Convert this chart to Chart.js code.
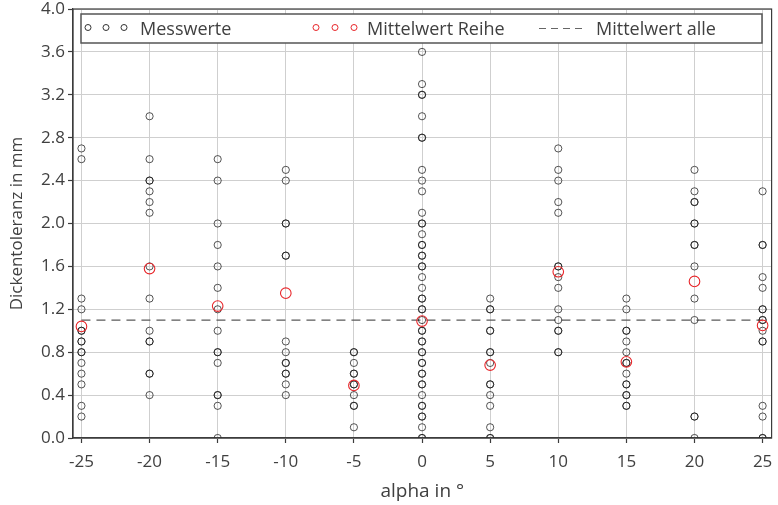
<!DOCTYPE html>
<html>
<head>
<meta charset="utf-8">
<script src="https://cdn.jsdelivr.net/npm/chart.js@4/dist/chart.umd.min.js"></script>
<style>
  html, body { margin: 0; padding: 0; background: #fff; }
  #wrap { width: 778px; height: 505px; position: relative; }
</style>
</head>
<body>
<div id="wrap"><canvas id="c" width="778" height="505"></canvas></div>
<script>
// Winkel der Messreihen (alpha in °)
const winkel = [-25, -20, -15, -10, -5, 0, 5, 10, 15, 20, 25];

// Messwerte je Reihe (Dickentoleranz in mm)
const reiheM25 = [2.7, 2.6, 1.3, 1.2, 1.0, 1.0, 0.9, 0.9, 0.8, 0.8, 0.7, 0.6, 0.5, 0.3, 0.2];
const reiheM20 = [3.0, 2.6, 2.4, 2.4, 2.3, 2.2, 2.1, 1.6, 1.3, 1.0, 0.9, 0.9, 0.6, 0.6, 0.4];
const reiheM15 = [2.6, 2.4, 2.0, 1.8, 1.6, 1.4, 1.2, 1.0, 0.8, 0.8, 0.7, 0.4, 0.4, 0.3, 0.0];
const reiheM10 = [2.5, 2.4, 2.0, 2.0, 1.7, 1.7, 0.9, 0.8, 0.7, 0.7, 0.6, 0.6, 0.5, 0.4];
const reiheM5  = [0.8, 0.8, 0.7, 0.6, 0.6, 0.5, 0.5, 0.4, 0.3, 0.3, 0.1];
const reihe0   = [3.6, 3.3, 3.2, 3.2, 3.0, 2.8, 2.8, 2.5, 2.4, 2.3, 2.1, 2.0, 2.0, 1.9, 1.8, 1.8,
                  1.7, 1.7, 1.6, 1.6, 1.5, 1.4, 1.3, 1.3, 1.2, 1.2, 1.1, 1.0, 1.0, 0.9, 0.9, 0.8,
                  0.8, 0.7, 0.7, 0.6, 0.6, 0.5, 0.5, 0.4, 0.3, 0.3, 0.2, 0.2, 0.1, 0.0, 0.0];
const reiheP5  = [1.3, 1.2, 1.2, 1.0, 1.0, 0.8, 0.8, 0.7, 0.5, 0.5, 0.4, 0.3, 0.1, 0.0, 0.0];
const reiheP10 = [2.7, 2.5, 2.4, 2.2, 2.1, 1.6, 1.6, 1.5, 1.4, 1.2, 1.1, 1.0, 1.0, 0.8, 0.8];
const reiheP15 = [1.3, 1.2, 1.0, 1.0, 0.9, 0.8, 0.7, 0.7, 0.6, 0.5, 0.5, 0.4, 0.4, 0.3, 0.3];
const reiheP20 = [2.5, 2.3, 2.2, 2.2, 2.0, 2.0, 1.8, 1.8, 1.6, 1.3, 1.1, 0.2, 0.2, 0.0];
const reiheP25 = [2.3, 1.8, 1.8, 1.5, 1.4, 1.2, 1.2, 1.1, 1.1, 1.0, 0.9, 0.9, 0.3, 0.2, 0.0, 0.0];

// Mittelwert je Reihe und Gesamtmittelwert
const mittelwertReihe = [1.04, 1.58, 1.23, 1.35, 0.49, 1.09, 0.68, 1.55, 0.71, 1.46, 1.05];
const mittelwertAlle = 1.1;

// Achsenbeschriftung
const xTicks = [-25, -20, -15, -10, -5, 0, 5, 10, 15, 20, 25];
const yTickStep = 0.4;

const reihen = [reiheM25, reiheM20, reiheM15, reiheM10, reiheM5, reihe0,
                reiheP5, reiheP10, reiheP15, reiheP20, reiheP25];

const messPunkte = [];
reihen.forEach((werte, i) => werte.forEach(v => messPunkte.push({ x: winkel[i], y: v })));
const mittelPunkte = winkel.map((w, i) => ({ x: w, y: mittelwertReihe[i] }));
const linieAlle = [
  { x: xTicks[0], y: mittelwertAlle },
  { x: xTicks[xTicks.length - 1], y: mittelwertAlle }
];

const FONT = "'Open Sans', 'Noto Sans', sans-serif";
const TEXT = '#404040';

// Achsen ohne zusätzlichen Randausgleich für überstehende Beschriftungen
function ohneRandausgleich(scale) {
  scale.paddingLeft = 0;
  scale.paddingRight = 0;
  scale.paddingTop = 0;
  scale.paddingBottom = 0;
}

// Rahmen um die Zeichenfläche und Legende
const rahmenUndLegende = {
  id: 'rahmenUndLegende',
  afterDraw(chart) {
    const { ctx, chartArea: a } = chart;
    ctx.save();
    ctx.strokeStyle = '#3c3c3c';
    ctx.lineWidth = 1.2;
    ctx.strokeRect(a.left, a.top, a.right - a.left, a.bottom - a.top);

    // Legendenkasten
    const bx = 81, by = 14, bw = 681, bh = 29;
    ctx.fillStyle = '#fff';
    ctx.fillRect(bx, by, bw, bh);
    ctx.strokeStyle = '#555';
    ctx.lineWidth = 1.5;
    ctx.strokeRect(bx, by, bw, bh);

    const cy = by + bh / 2 + 1;
    ctx.lineWidth = 1;
    // Messwerte
    ctx.strokeStyle = '#333';
    [88, 106, 124].forEach(x => { ctx.beginPath(); ctx.arc(x, cy - 2, 3, 0, Math.PI * 2); ctx.stroke(); });
    // Mittelwert Reihe
    ctx.strokeStyle = '#e8262a';
    [316, 335, 354].forEach(x => { ctx.beginPath(); ctx.arc(x, cy - 2, 3, 0, Math.PI * 2); ctx.stroke(); });
    // Mittelwert alle
    ctx.strokeStyle = '#666';
    ctx.setLineDash([7, 5]);
    ctx.beginPath(); ctx.moveTo(539, cy - 1); ctx.lineTo(586, cy - 1); ctx.stroke();
    ctx.setLineDash([]);

    ctx.fillStyle = TEXT;
    ctx.font = '18px ' + FONT;
    ctx.textBaseline = 'middle';
    ctx.textAlign = 'left';
    ctx.fillText('Messwerte', 140, cy);
    ctx.fillText('Mittelwert Reihe', 367, cy);
    ctx.fillText('Mittelwert alle', 596, cy);
    ctx.restore();
  }
};

new Chart(document.getElementById('c'), {
  type: 'scatter',
  data: {
    datasets: [
      {
        label: 'Mittelwert alle',
        type: 'line',
        data: linieAlle,
        borderColor: '#5a5a5a',
        borderWidth: 1.3,
        borderDash: [9, 6],
        pointRadius: 0,
        fill: false,
        order: 3
      },
      {
        label: 'Messwerte',
        data: messPunkte,
        pointStyle: 'circle',
        pointRadius: 3.6,
        pointBorderWidth: 1,
        pointBackgroundColor: 'rgba(0,0,0,0)',
        pointBorderColor: 'rgba(20,20,20,0.72)',
        order: 2
      },
      {
        label: 'Mittelwert Reihe',
        data: mittelPunkte,
        pointStyle: 'circle',
        pointRadius: 5.3,
        pointBorderWidth: 1.1,
        pointBackgroundColor: 'rgba(0,0,0,0)',
        pointBorderColor: '#e8262a',
        order: 1
      }
    ]
  },
  options: {
    responsive: false,
    animation: false,
    events: [],
    layout: { padding: { top: 9, right: 5, left: 0, bottom: 0 } },
    plugins: { legend: { display: false }, tooltip: { enabled: false } },
    scales: {
      x: {
        type: 'linear',
        min: -25.62,
        max: 25.66,
        afterBuildTicks(scale) { scale.ticks = xTicks.map(v => ({ value: v })); },
        afterFit(scale) { scale.height = 67; ohneRandausgleich(scale); },
        grid: { color: '#cfcfcf', lineWidth: 1, tickLength: 5, tickColor: '#3c3c3c', tickWidth: 1.2 },
        border: { color: '#3c3c3c', width: 1.2 },
        ticks: { color: TEXT, font: { family: FONT, size: 17 }, padding: 9, maxRotation: 0 },
        title: { display: true, text: 'alpha in °', color: TEXT, font: { family: FONT, size: 19 }, padding: { bottom: 2 } }
      },
      y: {
        type: 'linear',
        min: 0,
        max: 4,
        ticks: {
          stepSize: yTickStep,
          color: TEXT,
          font: { family: FONT, size: 17 },
          padding: 3,
          callback: v => Number(v).toFixed(1)
        },
        afterFit(scale) { scale.width = 73; ohneRandausgleich(scale); },
        grid: { color: '#cfcfcf', lineWidth: 1, tickLength: 5, tickColor: '#3c3c3c', tickWidth: 1.2 },
        border: { color: '#3c3c3c', width: 1.2 },
        title: { display: true, text: 'Dickentoleranz in mm', color: TEXT, font: { family: FONT, size: 17 }, padding: { top: 7 } }
      }
    }
  },
  plugins: [rahmenUndLegende]
});
</script>
</body>
</html>
